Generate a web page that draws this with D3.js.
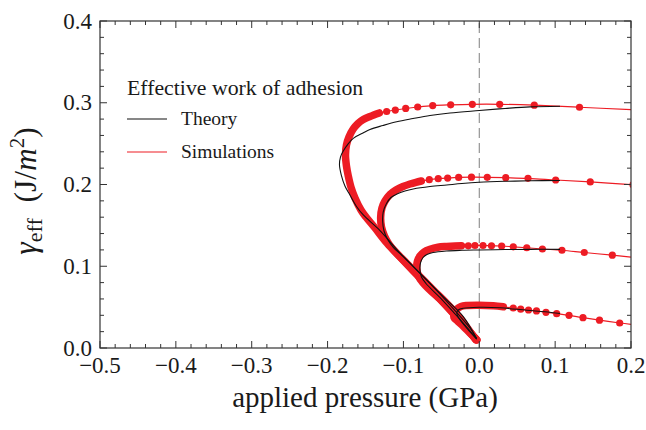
<!DOCTYPE html>
<html>
<head>
<meta charset="utf-8">
<script src="https://cdn.jsdelivr.net/npm/d3@7"></script>
<style>
  body { margin: 0; background: #fff; }
  text { font-family: "Liberation Serif", "Times New Roman", serif; fill: #1a1a1a; }
</style>
</head>
<body>
<div id="chart"></div>
<script>
var width = 646;
var height = 430;

var xTicks = [-0.5, -0.4, -0.3, -0.2, -0.1, 0.0, 0.1, 0.2];
var yTicks = [0.0, 0.1, 0.2, 0.3, 0.4];

// theory curves (black), [pressure GPa, gamma J/m2]
var theory1 = [[-0.0034,0.0116],[-0.0123,0.0245],[-0.0386,0.0526],[-0.0693,0.0832],[-0.1045,0.1162],
  [-0.1309,0.1437],[-0.1529,0.1627],[-0.1616,0.1728],[-0.1705,0.1871],[-0.1771,0.1982],[-0.1819,0.2116],
  [-0.1843,0.2238],[-0.1830,0.2336],[-0.1793,0.2410],[-0.1731,0.2495],[-0.1661,0.2565],[-0.1533,0.2630],
  [-0.1441,0.2673],[-0.1270,0.2722],[-0.1089,0.2768],[-0.0874,0.2807],[-0.0650,0.2844],[-0.0386,0.2875],
  [0.0,0.2905],[0.0339,0.2930],[0.0668,0.2950],[0.1064,0.2958]];
var theory2 = [[-0.0034,0.0110],[-0.0211,0.0383],[-0.0475,0.0628],[-0.0738,0.0872],[-0.1002,0.1117],
  [-0.1131,0.1229],[-0.1204,0.1321],[-0.1256,0.1431],[-0.1274,0.1553],[-0.1266,0.1664],[-0.1223,0.1768],
  [-0.1164,0.1841],[-0.1085,0.1884],[-0.0980,0.1920],[-0.0870,0.1945],[-0.0650,0.1975],[-0.0430,0.1994],
  [-0.0228,0.2012],[-0.0004,0.2027],[0.0339,0.2039],[0.0668,0.2045],[0.1064,0.2049]];
var theory3 = [[-0.0034,0.0110],[-0.0254,0.0349],[-0.0492,0.0593],[-0.0703,0.0789],[-0.0762,0.0868],
  [-0.0782,0.0954],[-0.0775,0.1040],[-0.0742,0.1107],[-0.0690,0.1144],[-0.0610,0.1168],[-0.0430,0.1187],
  [-0.0228,0.1195],[-0.0004,0.1199],[0.0339,0.1204],[0.0668,0.1207],[0.1064,0.1207]];
var theory4 = [[-0.0034,0.0110],[-0.0149,0.0226],[-0.0228,0.0312],[-0.0277,0.0379],[-0.0297,0.0428],
  [-0.0277,0.0465],[-0.0211,0.0486],[-0.0004,0.0498],[0.0273,0.0492],[0.0625,0.0461],[0.0866,0.0443],
  [0.1064,0.0422]];

// simulations (red): densely packed points, then separated points, then line to the frame
var sim1Dense = [[-0.0044,0.0110],[-0.0254,0.0330],[-0.0518,0.0599],[-0.0782,0.0856],[-0.1045,0.1113],
  [-0.1217,0.1284],[-0.1375,0.1468],[-0.1494,0.1602],[-0.1560,0.1688],[-0.1639,0.1835],[-0.1692,0.1969],
  [-0.1727,0.2104],[-0.1751,0.2226],[-0.1764,0.2361],[-0.1751,0.2483],[-0.1718,0.2581],[-0.1661,0.2679],
  [-0.1599,0.2746],[-0.1529,0.2795],[-0.1441,0.2832],[-0.1318,0.2875]];
var sim1Dots = [[-0.1221,0.2893],[-0.1107,0.2911],[-0.0970,0.2930],[-0.0812,0.2948],[-0.0614,0.2966],
  [-0.0377,0.2975],[-0.0092,0.2981],[0.0269,0.2981],[0.0725,0.2970],[0.1321,0.2945]];
var sim1Tail = [[0.2000,0.2916]];

var sim2Dense = [[-0.0050,0.0104],[-0.0254,0.0367],[-0.0430,0.0547],[-0.0606,0.0709],[-0.0782,0.0872],
  [-0.0957,0.1036],[-0.1098,0.1168],[-0.1191,0.1272],[-0.1250,0.1370],[-0.1289,0.1480],[-0.1300,0.1602],
  [-0.1283,0.1712],[-0.1243,0.1798],[-0.1177,0.1878],[-0.1098,0.1933],[-0.1006,0.1975],[-0.0914,0.2006],
  [-0.0835,0.2027],[-0.0765,0.2043]];
var sim2Dots = [[-0.0659,0.2059],[-0.0541,0.2071],[-0.0417,0.2079],[-0.0272,0.2086],[-0.0103,0.2089],
  [0.0105,0.2088],[0.0349,0.2083],[0.0642,0.2075],[0.1007,0.2055],[0.1463,0.2031],[0.2026,0.1997]];
var sim2Tail = [];

var sim3Dense = [[-0.0044,0.0104],[-0.0254,0.0336],[-0.0479,0.0563],[-0.0650,0.0709],[-0.0742,0.0795],
  [-0.0802,0.0881],[-0.0825,0.0979],[-0.0815,0.1064],[-0.0782,0.1125],[-0.0729,0.1174],[-0.0650,0.1207],
  [-0.0545,0.1232],[-0.0430,0.1242],[-0.0320,0.1248],[-0.0235,0.1250]];
var sim3Dots = [[-0.0145,0.1250],[-0.0057,0.1254],[0.0049,0.1254],[0.0161,0.1250],[0.0295,0.1248],
  [0.0448,0.1238],[0.0626,0.1226],[0.0832,0.1211],[0.1090,0.1196],[0.1384,0.1168],[0.1754,0.1135]];
var sim3Tail = [[0.2000,0.1112]];

var sim4Dense = [[-0.0030,0.0098],[-0.0123,0.0183],[-0.0215,0.0269],[-0.0287,0.0330],[-0.0334,0.0373],
  [-0.0327,0.0428],[-0.0294,0.0477],[-0.0241,0.0508],[-0.0162,0.0520],[-0.0004,0.0524],[0.0185,0.0516],
  [0.0316,0.0504]];
var sim4Dots = [[0.0448,0.0489],[0.0546,0.0475],[0.0649,0.0465],[0.0754,0.0453],[0.0879,0.0437],
  [0.1020,0.0420],[0.1183,0.0400],[0.1367,0.0371],[0.1585,0.0340],[0.1851,0.0306]];
var sim4Tail = [[0.2000,0.0290]];

var legendTitle = "Effective work of adhesion";
var legendItems = ["Theory", "Simulations"];

var red = "#ed1c24";

var svg = d3.select("#chart")
            .append("svg")
            .attr("width", width)
            .attr("height", height);

var x = d3.scaleLinear().domain([-0.5, 0.2]).range([100, 631]);
var y = d3.scaleLinear().domain([0, 0.4]).range([348, 21]);

svg.append("clipPath").attr("id", "plotclip")
   .append("rect")
   .attr("x", x(-0.5)).attr("y", y(0.4))
   .attr("width", x(0.2) - x(-0.5)).attr("height", y(0) - y(0.4));

var line = d3.line()
    .x(function(d){ return x(d[0]); })
    .y(function(d){ return y(d[1]); })
    .curve(d3.curveCatmullRom.alpha(0.5));

var plot = svg.append("g").attr("clip-path", "url(#plotclip)");

// dashed line at zero pressure
plot.append("line")
    .attr("x1", x(0)).attr("x2", x(0))
    .attr("y1", y(0)).attr("y2", y(0.4))
    .attr("stroke", "#8a8a8a")
    .attr("stroke-width", 1.1)
    .attr("stroke-dasharray", "10,5");

var sims = [
  {dense: sim1Dense, dots: sim1Dots, tail: sim1Tail},
  {dense: sim2Dense, dots: sim2Dots, tail: sim2Tail},
  {dense: sim3Dense, dots: sim3Dots, tail: sim3Tail},
  {dense: sim4Dense, dots: sim4Dots, tail: sim4Tail}
];

sims.forEach(function(s){
  // packed points drawn as a thick band
  plot.append("path")
      .attr("d", line(s.dense))
      .attr("fill", "none")
      .attr("stroke", red)
      .attr("stroke-width", 7.5)
      .attr("stroke-linejoin", "round")
      .attr("stroke-linecap", "round");
  plot.append("path")
      .attr("d", line(s.dense.concat(s.dots, s.tail)))
      .attr("fill", "none")
      .attr("stroke", red)
      .attr("stroke-width", 1.2);
  plot.selectAll(null)
      .data(s.dots)
      .enter()
      .append("circle")
      .attr("cx", function(d){ return x(d[0]); })
      .attr("cy", function(d){ return y(d[1]); })
      .attr("r", 3.6)
      .attr("fill", red);
});

[theory1, theory2, theory3, theory4].forEach(function(t){
  plot.append("path")
      .attr("d", line(t))
      .attr("fill", "none")
      .attr("stroke", "#111")
      .attr("stroke-width", 1.1);
});

// frame with inward ticks on all sides
var frame = svg.append("g");
frame.append("rect")
     .attr("x", x(-0.5)).attr("y", y(0.4))
     .attr("width", x(0.2) - x(-0.5)).attr("height", y(0) - y(0.4))
     .attr("fill", "none").attr("stroke", "#333").attr("stroke-width", 1.2);

var xMinor = x.ticks(35);
var yMinor = y.ticks(20);

function isMajor(v, list){
  return list.some(function(m){ return Math.abs(m - v) < 1e-6; });
}

xMinor.forEach(function(v){
  var len = isMajor(v, xTicks) ? 7 : 4;
  frame.append("line").attr("x1", x(v)).attr("x2", x(v))
       .attr("y1", y(0)).attr("y2", y(0) - len)
       .attr("stroke", "#333");
  frame.append("line").attr("x1", x(v)).attr("x2", x(v))
       .attr("y1", y(0.4)).attr("y2", y(0.4) + len)
       .attr("stroke", "#333");
});
yMinor.forEach(function(v){
  var len = isMajor(v, yTicks) ? 7 : 4;
  frame.append("line").attr("y1", y(v)).attr("y2", y(v))
       .attr("x1", x(-0.5)).attr("x2", x(-0.5) + len)
       .attr("stroke", "#333");
  frame.append("line").attr("y1", y(v)).attr("y2", y(v))
       .attr("x1", x(0.2)).attr("x2", x(0.2) - len)
       .attr("stroke", "#333");
});

var fmt = d3.format(".1f");

svg.selectAll(".xlab")
   .data(xTicks)
   .enter()
   .append("text")
   .attr("class", "xlab")
   .attr("x", function(d){ return x(d); })
   .attr("y", 373)
   .attr("text-anchor", "middle")
   .style("font-size", "23px")
   .text(function(d){ return fmt(d); });

svg.selectAll(".ylab")
   .data(yTicks)
   .enter()
   .append("text")
   .attr("class", "ylab")
   .attr("x", 92)
   .attr("y", function(d){ return y(d) + 7.5; })
   .attr("text-anchor", "end")
   .style("font-size", "23px")
   .text(function(d){ return fmt(d); });

// axis titles
svg.append("text")
   .attr("x", 365)
   .attr("y", 407)
   .attr("text-anchor", "middle")
   .style("font-size", "29px")
   .text("applied pressure (GPa)");

var ytitle = svg.append("text")
   .attr("transform", "translate(36,191) rotate(-90)")
   .attr("text-anchor", "middle")
   .style("font-size", "31.5px");
ytitle.append("tspan").style("font-style", "italic").text("γ");
ytitle.append("tspan").attr("dy", 6).style("font-size", "22px").text("eff");
ytitle.append("tspan").attr("dy", -6).text("\u2002(J/");
ytitle.append("tspan").style("font-style", "italic").text("m");
ytitle.append("tspan").attr("dy", -12).style("font-size", "21px").text("2");
ytitle.append("tspan").attr("dy", 12).text(")");

// legend
svg.append("text")
   .attr("x", 127)
   .attr("y", 95)
   .style("font-size", "21.8px")
   .text(legendTitle);

var legendColors = ["#111", red];
legendItems.forEach(function(name, i){
  var ly = 119 + i * 33;
  svg.append("line")
     .attr("x1", 127).attr("x2", 167)
     .attr("y1", ly).attr("y2", ly)
     .attr("stroke", legendColors[i])
     .attr("stroke-width", 1.1);
  svg.append("text")
     .attr("x", 181)
     .attr("y", ly + 6)
     .style("font-size", "19.5px")
     .text(name);
});
</script>
</body>
</html>
